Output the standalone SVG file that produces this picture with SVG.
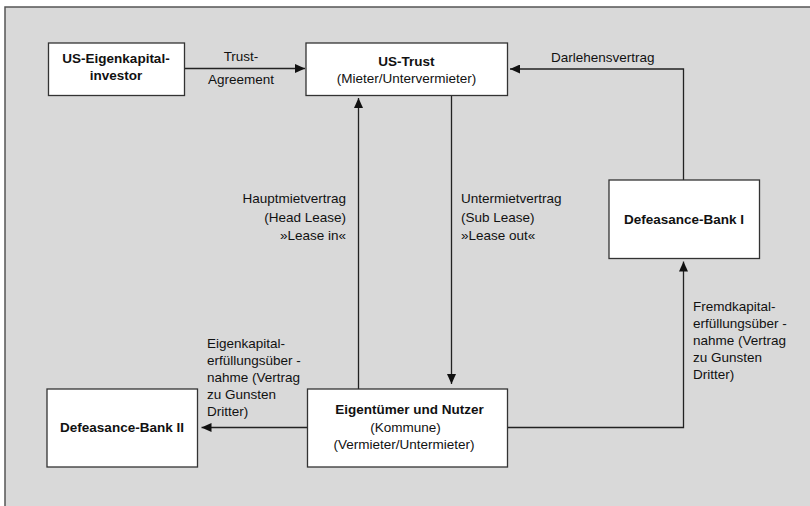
<svg xmlns="http://www.w3.org/2000/svg" width="810" height="506" viewBox="0 0 810 506">
<defs>
<marker id="ah" markerUnits="userSpaceOnUse" markerWidth="10" markerHeight="9" refX="10" refY="4.5" orient="auto">
<path d="M0,0 L10,4.5 L0,9 z" fill="#111"/>
</marker>
<style>
.box{fill:#fff;stroke:#333;stroke-width:1.3}
.t{font-family:"Liberation Sans",Arial,sans-serif;font-size:13.5px;fill:#111}
.b{font-weight:bold}
.c{text-anchor:middle}
.r{text-anchor:end}
.ln{fill:none;stroke:#222;stroke-width:1.3;marker-end:url(#ah)}
</style>
</defs>
<rect x="0" y="0" width="810" height="506" fill="#fff"/>
<rect x="5" y="7" width="820" height="520" fill="#d9d9d9" stroke="#555" stroke-width="1.5"/>
<g id="connectors">
<path class="ln" d="M184,68.5 H305"/>
<path class="ln" d="M683.5,180 V69 H510"/>
<path class="ln" d="M358.5,389 V98"/>
<path class="ln" d="M451.5,95 V384"/>
<path class="ln" d="M307,427.5 H201.5"/>
<path class="ln" d="M507,427.5 H683.5 V261.5"/>
</g>
<g id="labels">
<text class="t c" x="241" y="60.5">Trust-</text>
<text class="t c" x="241" y="83.5">Agreement</text>
<text class="t" x="551" y="61.7">Darlehensvertrag</text>
<text class="t r" x="346" y="203.3">Hauptmietvertrag</text>
<text class="t r" x="346" y="221.5">(Head Lease)</text>
<text class="t r" x="346" y="239.5">»Lease in«</text>
<text class="t" x="461" y="203.3">Untermietvertrag</text>
<text class="t" x="461" y="221.5">(Sub Lease)</text>
<text class="t" x="461" y="239.5">»Lease out«</text>
<text class="t" x="693" y="311">Fremdkapital-</text>
<text class="t" x="693" y="328">erfüllungsüber -</text>
<text class="t" x="693" y="345">nahme (Vertrag</text>
<text class="t" x="693" y="362">zu Gunsten</text>
<text class="t" x="693" y="379">Dritter)</text>
<text class="t" x="207" y="348.3">Eigenkapital-</text>
<text class="t" x="207" y="365.3">erfüllungsüber -</text>
<text class="t" x="207" y="382.3">nahme (Vertrag</text>
<text class="t" x="207" y="399.3">zu Gunsten</text>
<text class="t" x="207" y="416.3">Dritter)</text>
</g>
<g id="us-eigenkapitalinvestor">
<rect class="box" x="48.5" y="43" width="136" height="52.5"/>
<text class="t b c" x="116" y="62.7">US-Eigenkapital-</text>
<text class="t b c" x="116" y="80">investor</text>
</g>
<g id="us-trust">
<rect class="box" x="306" y="43" width="201.5" height="52.5"/>
<text class="t b c" x="406.5" y="65.7">US-Trust</text>
<text class="t c" x="406.5" y="83">(Mieter/Untervermieter)</text>
</g>
<g id="defeasance-bank-1">
<rect class="box" x="609" y="180" width="150.5" height="78.5"/>
<text class="t b c" x="684" y="223.5">Defeasance-Bank I</text>
</g>
<g id="defeasance-bank-2">
<rect class="box" x="47" y="389" width="150.5" height="78"/>
<text class="t b c" x="122" y="432.3">Defeasance-Bank II</text>
</g>
<g id="eigentuemer">
<rect class="box" x="307.5" y="389" width="200" height="78"/>
<text class="t b c" x="409.5" y="414">Eigentümer und Nutzer</text>
<text class="t c" x="405.5" y="431.7">(Kommune)</text>
<text class="t c" x="404" y="449.3">(Vermieter/Untermieter)</text>
</g>
</svg>
